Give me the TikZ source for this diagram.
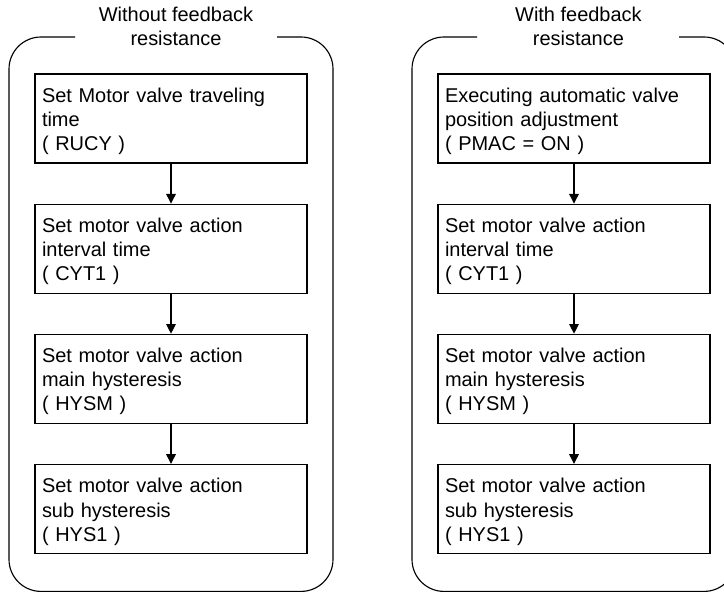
\documentclass[tikz,border=0pt]{standalone}
\usepackage{fontspec}
\setmainfont{Liberation Sans}
\usepackage{tikz}
\usetikzlibrary{arrows.meta,positioning}
\newcommand{\flowfont}{\fontsize{14.2pt}{17.1pt}\selectfont}
\tikzset{
  box/.style={draw,line width=0.8pt,align=left,font=\flowfont,
              text width=6.45cm,inner xsep=0.175cm,inner ysep=0pt,
              minimum width=6.8cm,minimum height=2.225cm,
              execute at begin node={\rule{0pt}{0.51cm}}},
  arr/.style={-{Triangle[length=0.24cm,width=0.24cm]},line width=0.8pt},
  panel/.style={draw,line width=0.8pt,rounded corners=0.8cm},
  ttl/.style={align=center,font=\flowfont,inner sep=0pt},
}

\begin{document}
\begin{tikzpicture}[node distance=1cm]
\path[use as bounding box,clip] (0,0) rectangle (18.1,14.825);

% left column: without feedback resistance
\node[ttl] (ttlA) at (4.4,14.156) {Without feedback\\resistance};
\draw[panel] (1.875,13.9) -| (0.225,0.04) -| (8.325,13.9) -- (6.925,13.9);
\node[box] (a1) at (4.275,11.8625) {Set Motor valve traveling\\time\\( RUCY )};
\node[box,below=of a1] (a2) {Set motor valve action\\interval time\\( CYT1 )};
\node[box,below=of a2] (a3) {Set motor valve action\\main hysteresis\\( HYSM )};
\node[box,below=of a3] (a4) {Set motor valve action\\sub hysteresis\\( HYS1 )};
\draw[arr] (a1) -- (a2);
\draw[arr] (a2) -- (a3);
\draw[arr] (a3) -- (a4);

% right column: with feedback resistance
\node[ttl] (ttlB) at (14.46,14.156) {With feedback\\resistance};
\draw[panel] (11.925,13.9) -| (10.3,0.04) -| (18.4,13.9) -- (16.975,13.9);
\node[box] (b1) at (14.35,11.8625) {Executing automatic valve\\position adjustment\\( PMAC = ON )};
\node[box,below=of b1] (b2) {Set motor valve action\\interval time\\( CYT1 )};
\node[box,below=of b2] (b3) {Set motor valve action\\main hysteresis\\( HYSM )};
\node[box,below=of b3] (b4) {Set motor valve action\\sub hysteresis\\( HYS1 )};
\draw[arr] (b1) -- (b2);
\draw[arr] (b2) -- (b3);
\draw[arr] (b3) -- (b4);
\end{tikzpicture}
\end{document}
